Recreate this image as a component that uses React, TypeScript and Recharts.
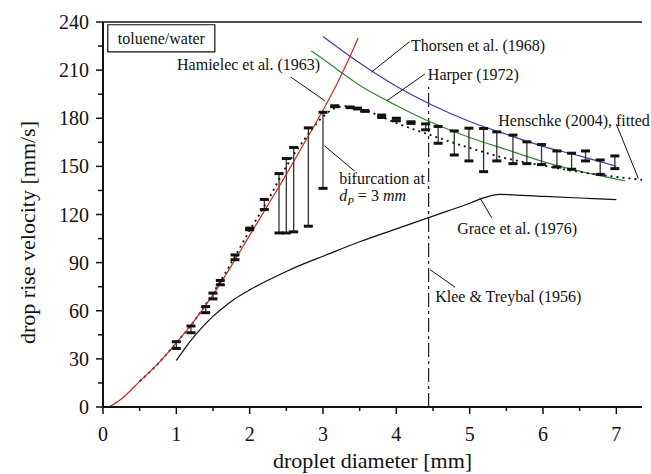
import React from 'react'
import {
  ComposedChart,
  Line,
  ErrorBar,
  XAxis,
  YAxis,
  ReferenceLine,
  ReferenceArea,
  ReferenceDot,
  Label,
} from 'recharts'

const FONT = "'Liberation Serif'"

// measured drop rise velocities (min / max per diameter)
const dropD = [1.0, 1.2, 1.4, 1.5, 1.6, 1.8, 2.0, 2.2, 2.4, 2.5, 2.6, 2.8, 3.0, 3.16, 3.37, 3.47, 3.57, 3.8, 4.0, 4.2, 4.4, 4.57, 4.79, 4.99, 5.19, 5.37, 5.59, 5.78, 5.98, 6.19, 6.39, 6.58, 6.78, 6.98]
const dropLow = [36.5, 46.3, 58.8, 67.4, 76.2, 91.8, 110.5, 123.1, 108.5, 108.5, 109.2, 112.7, 136.3, 187.2, 186.6, 185.8, 184.3, 180.5, 178.4, 176.8, 172.8, 164.4, 157.1, 153.4, 146.7, 153.4, 151.7, 151.7, 151.1, 149.6, 148.2, 153.4, 145, 148.6]
const dropHigh = [40.7, 50.5, 62.6, 71, 78.9, 94.8, 111.5, 129.4, 145.5, 154.9, 161.8, 174, 183.7, 187.8, 187, 186.3, 184.8, 182, 180, 177.8, 176.5, 174.9, 172.1, 173.8, 173.6, 171.5, 169.5, 165.3, 163.6, 159.6, 158.2, 159.6, 154, 156.5]

// Hamielec et al. (1963)
const hamD = [0.08, 0.25, 0.5, 0.75, 1.0, 1.25, 1.5, 1.75, 2.0, 2.25, 2.5, 2.75, 3.0, 3.25, 3.48]
const hamV = [0, 5, 16, 27, 40, 54, 70, 88, 107, 126, 145, 165, 185, 207, 230]

// Thorsen et al. (1968)
const thoD = [3.0, 3.5, 4.0, 4.5, 5.0, 5.5, 6.0, 6.5, 7.0]
const thoV = [231, 214.5, 200, 188, 178, 170, 162.5, 156.5, 150]

// Harper (1972)
const harD = [2.84, 3.0, 3.25, 3.5, 4.0, 4.5, 5.0, 5.5, 6.0, 6.5, 7.12]
const harV = [222, 217, 208.5, 200.5, 188, 177, 168, 160.5, 153, 147, 141]

// Henschke (2004), fitted
const henD = [0.5, 0.75, 1.0, 1.25, 1.5, 1.75, 2.0, 2.25, 2.5, 2.75, 3.0, 3.15, 3.3, 3.6, 4.0, 4.5, 5.0, 5.5, 6.0, 6.5, 7.0, 7.4]
const henV = [16, 27, 40, 54, 71, 90, 110, 129, 150, 167, 181, 186, 187.5, 184.5, 177, 169, 161.5, 155, 150.5, 146.5, 143.5, 141.3]

// Grace et al. (1976)
const graD = [1.0, 1.1, 1.2, 1.3, 1.4, 1.5, 1.6, 1.8, 2.0, 2.25, 2.5, 2.75, 3.0, 3.5, 4.0, 4.5, 5.0, 5.2, 5.4, 6.0, 6.5, 7.0]
const graV = [29, 35.5, 41.5, 47, 52, 56.5, 60.5, 67.5, 73, 79, 84.5, 89.5, 94, 103, 111, 119, 127, 130.5, 132.5, 131.3, 130.3, 129.3]

// Klee & Treybal (1956) critical diameter
const kleeD = 4.44
const kleeTop = 199.5

const xTicks = [0, 0.5, 1, 1.5, 2, 2.5, 3, 3.5, 4, 4.5, 5, 5.5, 6, 6.5, 7]
const yTicks = [0, 15, 30, 45, 60, 75, 90, 105, 120, 135, 150, 165, 180, 195, 210, 225, 240]

// annotation texts (left / baseline in data units)
const noteText = ['Hamielec et al. (1963)', 'Thorsen et al. (1968)', 'Harper (1972)', 'Henschke (2004), fitted', 'bifurcation at', 'Grace et al. (1976)', 'Klee & Treybal (1956)']
const noteX = [1.01, 4.2, 4.43, 5.39, 3.22, 4.83, 4.53]
const noteY = [210.3, 221.8, 204.1, 175.3, 138.8, 107.9, 65.7]

// leader lines
const leadX1 = [2.56, 4.18, 4.39, 7.0, 3.02, 5.14, 4.46]
const leadY1 = [205.7, 227.7, 207.6, 176.3, 162.8, 130.5, 85.6]
const leadX2 = [3.025, 3.66, 3.87, 7.3, 3.43, 5.3, 4.8]
const leadY2 = [190.9, 208.7, 190.9, 142.5, 147.1, 117.9, 74.7]

const toRows = (xs: number[], ys: number[]) => xs.map((x, i) => ({ x, y: ys[i] }))

const lowRows = dropD.map((x, i) => ({ x, y: dropLow[i], err: [0, dropHigh[i] - dropLow[i]] }))
const highRows = toRows(dropD, dropHigh)

const txt = { fontFamily: FONT }

function Cap(props: any) {
  const { cx, cy } = props
  if (cx == null || cy == null) return null
  return <rect x={cx - 4.5} y={cy - 1.5} width={9} height={3} fill="#111" />
}

function XTick(props: any) {
  const { x, y, payload } = props
  const major = Number.isInteger(payload.value)
  return (
    <g>
      <line x1={x} x2={x} y1={y} y2={y + (major ? 7 : 4)} stroke="#111" strokeWidth={1.5} />
      {major && (
        <text x={x} y={y + 34} textAnchor="middle" fontSize={20} style={txt} fill="#111">
          {payload.value}
        </text>
      )}
    </g>
  )
}

function YTick(props: any) {
  const { x, y, payload } = props
  const major = payload.value % 30 === 0
  return (
    <g>
      <line x1={x} x2={x - (major ? 7 : 5)} y1={y} y2={y} stroke="#111" strokeWidth={1.5} />
      {major && (
        <text x={x - 14} y={y + 7} textAnchor="end" fontSize={20} style={txt} fill="#111">
          {payload.value}
        </text>
      )}
    </g>
  )
}

function noteShape(i: number) {
  return (p: any) => {
    if (i === 4) {
      return (
        <text x={p.cx} y={p.cy} fontSize={16} style={txt} fill="#111">
          <tspan>bifurcation at</tspan>
          <tspan x={p.cx} dy={17} fontStyle="italic">d</tspan>
          <tspan fontStyle="italic" fontSize={11} dy={4}>P</tspan>
          <tspan dy={-4}> = 3 </tspan>
          <tspan fontStyle="italic">mm</tspan>
        </text>
      )
    }
    return (
      <text x={p.cx} y={p.cy} fontSize={16} style={txt} fill="#111">
        {noteText[i]}
      </text>
    )
  }
}

export default function App() {
  return (
    <div style={{ position: 'absolute', left: 0, top: 0, width: 651, height: 474, background: '#fff' }}>
      <ComposedChart width={651} height={474} margin={{ top: 22, right: 9, bottom: 0, left: 0 }}>
        <XAxis
          type="number"
          dataKey="x"
          domain={[0, 7.35]}
          ticks={xTicks}
          allowDataOverflow
          tick={<XTick />}
          tickLine={false}
          tickSize={0}
          tickMargin={0}
          height={67}
          axisLine={{ stroke: '#111', strokeWidth: 2 }}
        >
          <Label
            content={(p: any) => (
              <text
                x={p.viewBox.x + p.viewBox.width / 2}
                y={p.viewBox.y + 61}
                textAnchor="middle"
                fontSize={22}
                style={txt}
                fill="#111"
              >
                droplet diameter [mm]
              </text>
            )}
          />
        </XAxis>
        <YAxis
          type="number"
          dataKey="y"
          domain={[0, 240]}
          ticks={yTicks}
          allowDataOverflow
          tick={<YTick />}
          tickLine={false}
          tickSize={0}
          tickMargin={0}
          width={103}
          axisLine={{ stroke: '#111', strokeWidth: 2 }}
        >
          <Label
            content={(p: any) => {
              const cx = p.viewBox.x + 27
              const cy = p.viewBox.y + p.viewBox.height / 2 + 18
              return (
                <text
                  x={cx}
                  y={cy}
                  transform={`rotate(-90 ${cx} ${cy})`}
                  textAnchor="middle"
                  dominantBaseline="central"
                  fontSize={22}
                  style={txt}
                  fill="#111"
                >
                  drop rise velocity [mm/s]
                </text>
              )
            }}
          />
        </YAxis>

        <ReferenceLine y={240} stroke="#111" strokeWidth={1.5} />

        <ReferenceArea
          x1={0.065}
          x2={1.525}
          y1={221.4}
          y2={238.3}
          fill="#fff"
          fillOpacity={1}
          stroke="#111"
          strokeWidth={1.2}
        >
          <Label value="toluene/water" position="center" fontSize={16} style={txt} fill="#111" />
        </ReferenceArea>

        <ReferenceLine
          segment={[
            { x: kleeD, y: 0 },
            { x: kleeD, y: kleeTop },
          ]}
          stroke="#222"
          strokeWidth={1.2}
          strokeDasharray="14 4 3 4"
        />

        <Line data={toRows(graD, graV)} dataKey="y" type="monotone" stroke="#111" strokeWidth={1.2} dot={false} isAnimationActive={false} />
        <Line data={toRows(thoD, thoV)} dataKey="y" type="monotone" stroke="#3d3da6" strokeWidth={1.2} dot={false} isAnimationActive={false} />
        <Line data={toRows(harD, harV)} dataKey="y" type="monotone" stroke="#2f8a2f" strokeWidth={1.2} dot={false} isAnimationActive={false} />

        <Line
          data={lowRows}
          dataKey="y"
          stroke="none"
          dot={<Cap />}
          activeDot={false}
          isAnimationActive={false}
        >
          <ErrorBar dataKey="err" direction="y" width={0} stroke="#333" strokeWidth={1.3} isAnimationActive={false} />
        </Line>
        <Line data={highRows} dataKey="y" stroke="none" dot={<Cap />} activeDot={false} isAnimationActive={false} />

        <Line data={toRows(henD, henV)} dataKey="y" type="monotone" stroke="#111" strokeWidth={1.8} strokeDasharray="2 4" dot={false} isAnimationActive={false} />
        <Line data={toRows(hamD, hamV)} dataKey="y" type="monotone" stroke="#d02424" strokeWidth={1.2} dot={false} isAnimationActive={false} />

        {leadX1.map((x1, i) => (
          <ReferenceLine
            key={`lead-${i}`}
            segment={[
              { x: x1, y: leadY1[i] },
              { x: leadX2[i], y: leadY2[i] },
            ]}
            stroke="#111"
            strokeWidth={1}
          />
        ))}
        {noteText.map((t, i) => (
          <ReferenceDot key={t} x={noteX[i]} y={noteY[i]} r={0} shape={noteShape(i)} />
        ))}
      </ComposedChart>
    </div>
  )
}
